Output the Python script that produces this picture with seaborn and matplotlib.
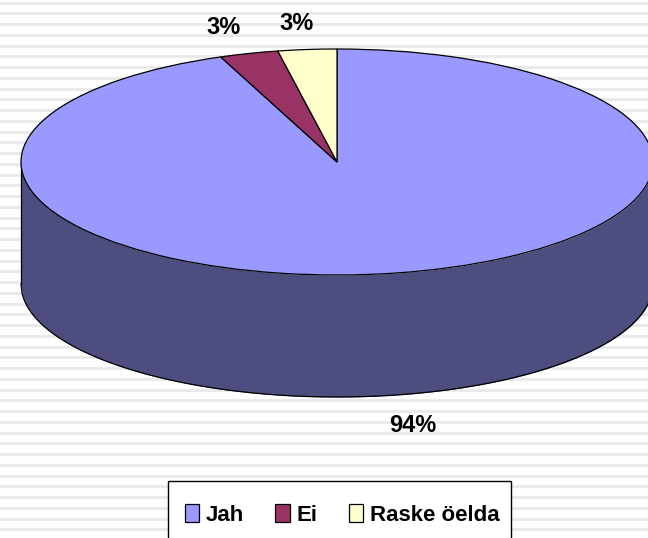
import numpy as np
import matplotlib
matplotlib.use("Agg")
import matplotlib.pyplot as plt
from matplotlib.patches import Rectangle
import seaborn as sns

# Andmed
categories = ["Jah", "Ei", "Raske öelda"]
values = [94, 3, 3]
colors = ["#9999FF", "#993366", "#FFFFCC"]
side_color = "#4D4D80"

W, H = 648, 538
cx, cy = 337, 162      # pie centre in pixels
rx, ry = 316, 113      # ellipse radii
depth = 122            # wall height

sns.set_theme(style="white")
plt.rcParams["font.family"] = ["Liberation Sans", "DejaVu Sans"]

fig = plt.figure(figsize=(W / 100, H / 100), dpi=100, facecolor="white")

# striped background
bg = fig.add_axes([0, 0, 1, 1])
bg.set_xlim(0, W)
bg.set_ylim(H, 0)
bg.axis("off")
for y in np.arange(2.7, H, 10.75):
    bg.axhline(y, color="#EAEAEA", lw=2.2)

# pie axes, one data unit is the radius, so the circle gets squashed
ax = fig.add_axes([0, 0, 1, 1], facecolor="none")
wedges, _ = ax.pie(values, colors=colors, startangle=90, counterclock=False,
                   radius=1, wedgeprops={"edgecolor": "black", "linewidth": 0.9})
for w in wedges:
    w.set_zorder(3)

# side wall
x = np.linspace(-1, 1, 600)
front = -np.sqrt(1 - x**2)
d = depth / ry
ax.fill_between(x, front, front - d, color=side_color, lw=0, zorder=1)
ax.plot(x, front - d, color="black", lw=0.9, zorder=2)
ax.plot([-1, -1], [0, -d], color="black", lw=0.9, zorder=2)

ax.set_aspect("auto")
ax.set_xlim(-cx / rx, (W - cx) / rx)
ax.set_ylim(-(H - cy) / ry, cy / ry)
ax.axis("off")

# protsendid
label_px = [(413, 425), (224, 28), (297, 23)]
for v, (px, py) in zip(values, label_px):
    fig.text(px / W, 1 - py / H, f"{v}%", ha="center", va="center",
             fontsize=17, fontweight="bold", color="black")

# legend box runs off the bottom edge
box = Rectangle((168 / W, 1 - 545 / H), 343 / W, 64 / H, transform=fig.transFigure,
                facecolor="white", edgecolor="black", lw=1.0, zorder=4)
fig.add_artist(box)

leg = fig.legend(wedges, categories, ncol=3, loc="center left",
                 bbox_to_anchor=(185 / W, 1 - 515 / H), borderaxespad=0, borderpad=0,
                 prop={"weight": "bold", "size": 16}, frameon=False, labelcolor="black",
                 handlelength=0.65, handleheight=0.85, handletextpad=0.3,
                 columnspacing=1.4)
leg.set_zorder(5)

fig.savefig("out.png", dpi=100)
